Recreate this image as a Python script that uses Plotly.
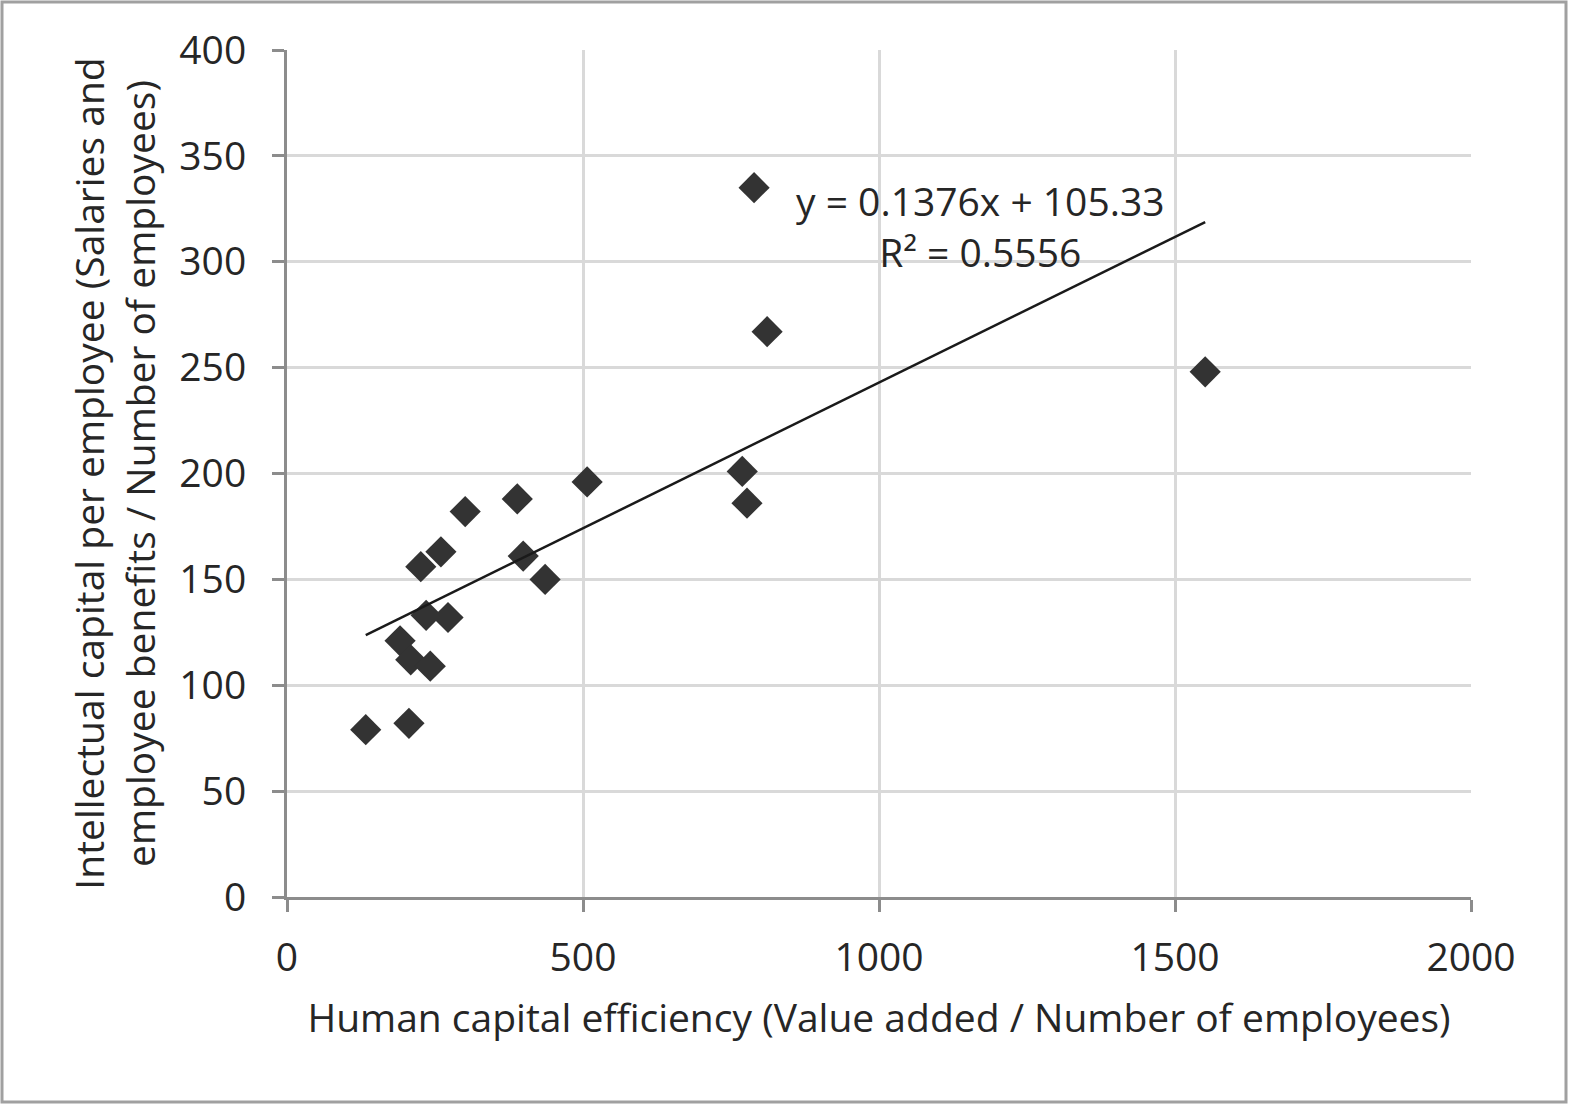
import plotly.graph_objects as go

# Data
hce = [133, 206, 191, 209, 242, 235, 272, 226, 260, 301, 389, 399, 436, 507, 769, 777, 789, 811, 1551]
icpe = [79, 82, 121, 112, 109, 133, 132, 156, 163, 182, 188, 161, 150, 196, 201, 186, 335, 267, 248]

slope = 0.1376
intercept = 105.33
r2 = 0.5556

x_ticks = [0, 500, 1000, 1500, 2000]
y_ticks = [0, 50, 100, 150, 200, 250, 300, 350, 400]

FONT = "Open Sans"
TXT = "#262626"
FS = 39

xl = [min(hce), max(hce)]
yl = [slope * v + intercept for v in xl]

fig = go.Figure()
fig.add_trace(go.Scatter(
    x=hce, y=icpe, mode="markers",
    marker=dict(symbol="diamond", size=24, color="#333333", line=dict(width=0)),
    showlegend=False, hoverinfo="x+y"))
fig.add_trace(go.Scatter(
    x=xl, y=yl, mode="lines",
    line=dict(color="#1a1a1a", width=2.5),
    showlegend=False, hoverinfo="skip"))

fig.add_annotation(
    x=1171, y=317, xref="x", yref="y",
    text=f"y = {slope}x + {intercept}<br>R² = {r2}",
    showarrow=False, align="center",
    font=dict(family=FONT, size=FS, color=TXT))

# outer border
px0, pw = 287, 1184
py0, ph = 50, 847
fig.add_shape(type="rect", xref="paper", yref="paper",
              x0=(2 - px0) / pw, x1=(1566 - px0) / pw,
              y0=1 - (1102 - py0) / ph, y1=1 - (2 - py0) / ph,
              line=dict(color="#a0a0a0", width=3), fillcolor="rgba(0,0,0,0)",
              layer="below")

fig.update_layout(
    width=1569, height=1105,
    margin=dict(l=287, r=98, t=50, b=208),
    paper_bgcolor="white", plot_bgcolor="white",
    font=dict(family=FONT, size=FS, color=TXT),
)
fig.update_xaxes(
    range=[0, 2000], tickvals=x_ticks, ticktext=[str(v) for v in x_ticks],
    showgrid=True, gridcolor="#d9d9d9", gridwidth=2.5,
    zeroline=False, showline=True, linecolor="#8c8c8c", linewidth=3,
    ticks="outside", ticklen=12, tickwidth=3, tickcolor="#8c8c8c",
    ticklabelstandoff=12,
    tickfont=dict(family=FONT, size=FS, color=TXT),
    title=dict(text="Human capital efficiency (Value added / Number of employees)",
               font=dict(family=FONT, size=FS, color=TXT), standoff=24),
)
fig.update_yaxes(
    range=[0, 400], tickvals=y_ticks, ticktext=[str(v) for v in y_ticks],
    showgrid=True, gridcolor="#d9d9d9", gridwidth=2.5,
    zeroline=False, showline=True, linecolor="#8c8c8c", linewidth=3,
    ticks="outside", ticklen=12, tickwidth=3, tickcolor="#8c8c8c",
    ticklabelstandoff=18,
    tickfont=dict(family=FONT, size=FS, color=TXT),
    title=dict(text="Intellectual capital per employee (Salaries and<br>employee benefits / Number of employees)",
               font=dict(family=FONT, size=FS, color=TXT), standoff=12),
)

fig.write_html("out.html", config={"displayModeBar": False},
               post_script="document.body.style.margin='0';document.body.style.overflow='hidden';")
